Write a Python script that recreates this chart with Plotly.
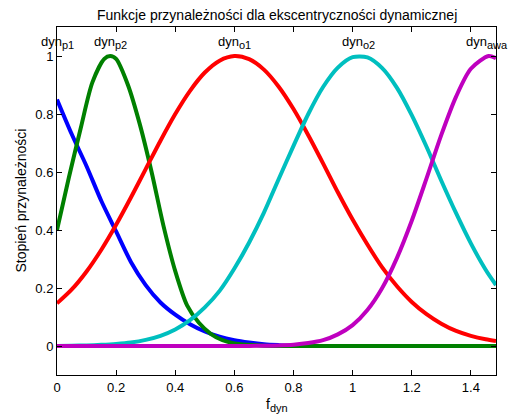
import plotly.graph_objects as go

# ---- data ----
x_p1 = [0.00, 0.05, 0.10, 0.15, 0.20, 0.25, 0.30, 0.35, 0.40, 0.45, 0.50, 0.55, 0.60, 0.65, 0.70, 0.75, 0.80, 0.90, 1.00, 1.20, 1.485]
y_p1 = [0.85, 0.73, 0.62, 0.50, 0.395, 0.29, 0.21, 0.15, 0.108, 0.075, 0.05, 0.032, 0.02, 0.012, 0.006, 0.003, 0.001, 0, 0, 0, 0]

x_p2 = [0.00, 0.04, 0.08, 0.12, 0.16, 0.18, 0.20, 0.24, 0.28, 0.32, 0.36, 0.40, 0.44, 0.48, 0.52, 0.56, 0.60, 0.65, 0.70, 0.80, 1.00, 1.20, 1.40, 1.485]
y_p2 = [0.40, 0.58, 0.75, 0.91, 0.99, 1.00, 0.99, 0.90, 0.765, 0.60, 0.415, 0.258, 0.14, 0.08, 0.042, 0.02, 0.009, 0.004, 0.001, 0, 0, 0, 0, 0]

x_o1 = [0.00, 0.05, 0.10, 0.15, 0.20, 0.25, 0.30, 0.35, 0.40, 0.45, 0.50, 0.55, 0.60, 0.65, 0.70, 0.75,
        0.80, 0.85, 0.90, 0.95, 1.00, 1.05, 1.10, 1.15, 1.20, 1.25, 1.30, 1.35, 1.40, 1.45, 1.485]
y_o1 = [0.147, 0.195, 0.257, 0.332, 0.418, 0.512, 0.61, 0.708, 0.80, 0.88, 0.943, 0.984, 1.0, 0.989, 0.953, 0.894,
        0.817, 0.727, 0.63, 0.53, 0.436, 0.35, 0.271, 0.206, 0.152, 0.11, 0.077, 0.052, 0.035, 0.023, 0.017]

x_o2 = [0.00, 0.05, 0.10, 0.15, 0.20, 0.25, 0.30, 0.35, 0.40, 0.45, 0.50, 0.55, 0.60, 0.65, 0.70, 0.75,
        0.80, 0.85, 0.90, 0.95, 1.00, 1.05, 1.10, 1.15, 1.20, 1.25, 1.30, 1.35, 1.40, 1.45, 1.485]
y_o2 = [0.0, 0.001, 0.002, 0.004, 0.007, 0.012, 0.021, 0.035, 0.057, 0.089, 0.133, 0.19, 0.267, 0.357, 0.46, 0.576,
        0.69, 0.80, 0.893, 0.96, 0.996, 0.995, 0.958, 0.89, 0.796, 0.687, 0.57, 0.458, 0.354, 0.263, 0.21]

x_awa = [0.00, 0.20, 0.40, 0.60, 0.65, 0.70, 0.75, 0.80, 0.85, 0.90, 0.95, 1.00, 1.05, 1.10, 1.15, 1.20,
         1.25, 1.30, 1.35, 1.40, 1.46, 1.485]
y_awa = [0.0, 0.0, 0.0, 0.0, 0.0, 0.001, 0.002, 0.0045, 0.01, 0.02, 0.04, 0.072, 0.124, 0.20, 0.304, 0.432,
         0.578, 0.728, 0.86, 0.956, 1.0, 0.992]

series = [
    ("dyn_p1", x_p1, y_p1, "#0000FF"),
    ("dyn_p2", x_p2, y_p2, "#008000"),
    ("dyn_o1", x_o1, y_o1, "#FF0000"),
    ("dyn_o2", x_o2, y_o2, "#00BFBF"),
    ("dyn_awa", x_awa, y_awa, "#BF00BF"),
]

label_main = ["dyn", "dyn", "dyn", "dyn", "dyn"]
label_sub = ["p1", "p2", "o1", "o2", "awa"]
label_x = [0.0, 0.18, 0.6, 1.02, 1.455]

x_ticks = [0, 0.2, 0.4, 0.6, 0.8, 1, 1.2, 1.4]
y_ticks = [0, 0.2, 0.4, 0.6, 0.8, 1]

title_text = "Funkcje przynależności dla ekscentryczności dynamicznej"
xlabel_main, xlabel_sub = "f", "dyn"
ylabel_text = "Stopień przynależności"

FONT = "Liberation Sans, Arial, Helvetica, sans-serif"

fig = go.Figure()
for name, xs, ys, col in series:
    fig.add_trace(go.Scatter(x=xs, y=ys, mode="lines", name=name,
                             line=dict(color=col, width=4, shape="spline", smoothing=0.8),
                             showlegend=False, hoverinfo="skip"))

axis_common = dict(showline=True, linecolor="black", linewidth=1, mirror="ticks",
                   ticks="inside", ticklen=5, tickwidth=1, tickcolor="black",
                   showgrid=False, zeroline=False,
                   tickfont=dict(family=FONT, size=13, color="black"))

fig.update_xaxes(range=[0, 1.485], tickvals=x_ticks, **axis_common)
fig.update_yaxes(range=[-0.1, 1.1], tickvals=y_ticks, **axis_common)

annotations = []
for m, s, xv in zip(label_main, label_sub, label_x):
    txt = f"{m}<sub><span style='font-size:11px'>{s}</span></sub>"
    annotations.append(dict(x=xv, y=1.047, xref="x", yref="y", text=txt, showarrow=False,
                            xanchor="center", yanchor="middle",
                            font=dict(family=FONT, size=13, color="black")))
annotations.append(dict(x=0.5, y=1.035, xref="paper", yref="paper", text=title_text,
                        showarrow=False, xanchor="center", yanchor="middle",
                        font=dict(family=FONT, size=14, color="black")))
annotations.append(dict(x=0.5, y=-0.085, xref="paper", yref="paper",
                        text=f"{xlabel_main}<sub><span style='font-size:11px'>{xlabel_sub}</span></sub>",
                        showarrow=False, xanchor="center", yanchor="middle",
                        font=dict(family=FONT, size=14, color="black")))
annotations.append(dict(x=-0.083, y=0.5, xref="paper", yref="paper", text=ylabel_text,
                        showarrow=False, xanchor="center", yanchor="middle", textangle=-90,
                        font=dict(family=FONT, size=14, color="black")))

fig.update_layout(width=511, height=414, margin=dict(l=57, r=15, t=27, b=39),
                  paper_bgcolor="white", plot_bgcolor="white",
                  annotations=annotations, showlegend=False)

fig.write_html("out.html")
